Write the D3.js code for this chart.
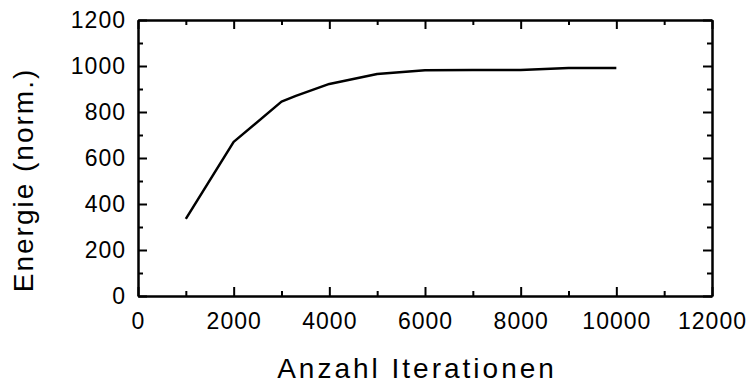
<!DOCTYPE html>
<html lang="de">
<head>
  <meta charset="UTF-8">
  <title>Energie vs. Iterationen</title>
  <script src="https://d3js.org/d3.v7.min.js"></script>
  <style>
    body {
      margin: 0;
      background: #fff;
      font-family: 'Liberation Sans', Arial, sans-serif;
    }
    svg { display: block; }
    .axis path, .axis line {
      stroke: #000;
      stroke-width: 2;
    }
    .axis text {
      font-family: 'Liberation Sans', Arial, sans-serif;
      font-size: 23px;
      fill: #000;
      letter-spacing: 1px;
    }
    .title {
      font-size: 28px;
      fill: #000;
    }
  </style>
</head>
<body>
  <svg id="chart" width="752" height="386"></svg>
  <script>
    // data
    const iterations = [1000, 2000, 3000, 3300, 4000, 5000, 6000, 7000, 8000, 9000, 10000];
    const energy = [335, 670, 845, 870, 922, 965, 982, 983, 983, 991, 991];
    const xTicks = [0, 2000, 4000, 6000, 8000, 10000, 12000];
    const yTicks = [0, 200, 400, 600, 800, 1000, 1200];
    const xMinor = [1000, 3000, 5000, 7000, 9000, 11000];
    const yMinor = [100, 300, 500, 700, 900, 1100];
    const xLabel = "Anzahl Iterationen";
    const yLabel = "Energie (norm.)";

    const margin = { top: 20, right: 40, bottom: 90, left: 138 };
    const svg = d3.select("#chart");
    const width = +svg.attr("width") - margin.left - margin.right;
    const height = +svg.attr("height") - margin.top - margin.bottom;
    const g = svg.append("g").attr("transform", `translate(${margin.left},${margin.top})`);

    const x = d3.scaleLinear().domain([0, 12000]).range([0, width]);
    const y = d3.scaleLinear().domain([0, 1200]).range([height, 0]);

    const major = 9, minor = 5;

    // bottom axis with labels, ticks pointing inward
    g.append("g").attr("class", "axis")
      .attr("transform", `translate(0,${height})`)
      .call(d3.axisBottom(x).tickValues(xTicks).tickSizeInner(-major).tickSizeOuter(0).tickPadding(17).tickFormat(d3.format("d")));
    g.append("g").attr("class", "axis")
      .attr("transform", `translate(0,${height})`)
      .call(d3.axisBottom(x).tickValues(xMinor).tickSizeInner(-minor).tickSizeOuter(0).tickFormat(""));

    // top axis, no labels
    g.append("g").attr("class", "axis")
      .call(d3.axisTop(x).tickValues(xTicks).tickSizeInner(-major).tickSizeOuter(0).tickFormat(""));
    g.append("g").attr("class", "axis")
      .call(d3.axisTop(x).tickValues(xMinor).tickSizeInner(-minor).tickSizeOuter(0).tickFormat(""));

    // left axis with labels
    g.append("g").attr("class", "axis")
      .call(d3.axisLeft(y).tickValues(yTicks).tickSizeInner(-major).tickSizeOuter(0).tickPadding(12).tickFormat(d3.format("d")));
    g.append("g").attr("class", "axis")
      .call(d3.axisLeft(y).tickValues(yMinor).tickSizeInner(-minor).tickSizeOuter(0).tickFormat(""));

    // right axis, no labels
    g.append("g").attr("class", "axis")
      .attr("transform", `translate(${width},0)`)
      .call(d3.axisRight(y).tickValues(yTicks).tickSizeInner(-major).tickSizeOuter(0).tickFormat(""));
    g.append("g").attr("class", "axis")
      .attr("transform", `translate(${width},0)`)
      .call(d3.axisRight(y).tickValues(yMinor).tickSizeInner(-minor).tickSizeOuter(0).tickFormat(""));

    const points = iterations.map((it, i) => ({ it, e: energy[i] }));
    const line = d3.line().x(d => x(d.it)).y(d => y(d.e));

    g.append("path")
      .datum(points)
      .attr("fill", "none")
      .attr("stroke", "#000")
      .attr("stroke-width", 2.5)
      .attr("stroke-linejoin", "round")
      .attr("d", line);

    svg.append("text")
      .attr("class", "title")
      .attr("x", 417)
      .attr("y", 378)
      .attr("text-anchor", "middle")
      .style("letter-spacing", "3px")
      .text(xLabel);

    svg.append("text")
      .attr("class", "title")
      .attr("transform", "translate(33,180) rotate(-90)")
      .attr("text-anchor", "middle")
      .style("letter-spacing", "2px")
      .text(yLabel);
  </script>
</body>
</html>
